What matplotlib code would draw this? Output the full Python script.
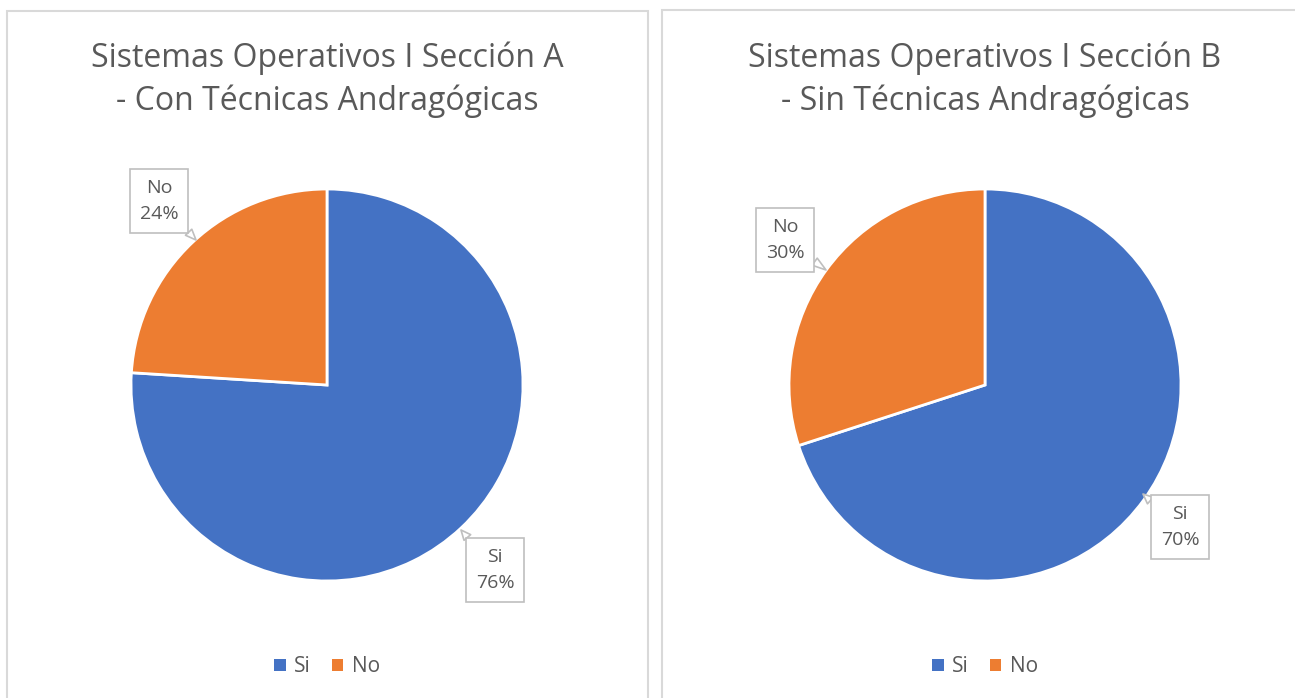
import matplotlib
matplotlib.use("Agg")
import matplotlib.pyplot as plt
from matplotlib.patches import Rectangle

categories = ["Si", "No"]
values_a = [76, 24]
values_b = [70, 30]
titles = ["Sistemas Operativos I Sección A\n- Con Técnicas Andragógicas",
          "Sistemas Operativos I Sección B\n- Sin Técnicas Andragógicas"]
colors = ["#4472C4", "#ED7D31"]

W, H = 1295, 698
fig = plt.figure(figsize=(W / 100, H / 100), dpi=100)
plt.rcParams['font.family'] = ['Open Sans', 'DejaVu Sans']
text_color = "#595959"

# panel borders
for (x0, y0, x1) in [(7, 11, 648), (662, 10, 1310)]:
    fig.patches.append(Rectangle((x0 / W, -0.05), (x1 - x0) / W, (H - y0) / H + 0.05,
                                 transform=fig.transFigure, fill=False,
                                 ec="#D9D9D9", lw=1.5, zorder=0))

R = 196
centers = [(327, 385), (985, 385)]
# label box centers and pointer tips (in pixel coords)
label_pos = [[(495, 570), (159, 201)], [(1180, 527), (785, 240)]]
tips = [[(461, 530), (196, 240)], [(1143, 494), (826, 270)]]

for i, vals in enumerate([values_a, values_b]):
    cx, cy = centers[i]
    ax = fig.add_axes([(cx - R) / W, (H - cy - R) / H, 2 * R / W, 2 * R / H])
    ax.pie(vals, colors=colors, startangle=90, counterclock=False, radius=1,
           wedgeprops=dict(edgecolor="white", linewidth=2))
    ax.set_xlim(-1, 1)
    ax.set_ylim(-1, 1)
    ax.set_aspect('auto')
    ax.axis('off')
    fig.text(cx / W, (H - 80) / H, titles[i], ha='center', va='center',
             fontsize=23, color=text_color, linespacing=1.36)
    total = sum(vals)
    for j, cat in enumerate(categories):
        lx, ly = label_pos[i][j]
        tx, ty = tips[i][j]
        pct = round(100 * vals[j] / total)
        ax.annotate(f"{cat}\n{pct}%",
                    xy=((tx - cx) / R, (cy - ty) / R),
                    xytext=((lx - cx) / R, (cy - ly) / R),
                    ha='center', va='center', fontsize=14, color=text_color,
                    linespacing=1.6, annotation_clip=False,
                    bbox=dict(boxstyle="square,pad=0.5", fc="white", ec="#BFBFBF", lw=1.2),
                    arrowprops=dict(arrowstyle="wedge,tail_width=0.45", fc="white",
                                    ec="#BFBFBF", lw=1.2, shrinkA=0, shrinkB=0))
    # legend
    handles = [plt.Rectangle((0, 0), 1, 1, fc=c) for c in colors]
    leg = fig.legend(handles, categories, loc='center',
                     bbox_to_anchor=(cx / W, (H - 667) / H), ncol=2, frameon=False,
                     fontsize=15, handlelength=0.55, handleheight=0.55,
                     handletextpad=0.4, columnspacing=1.0, labelcolor=text_color)

fig.savefig("out.png", dpi=100)
